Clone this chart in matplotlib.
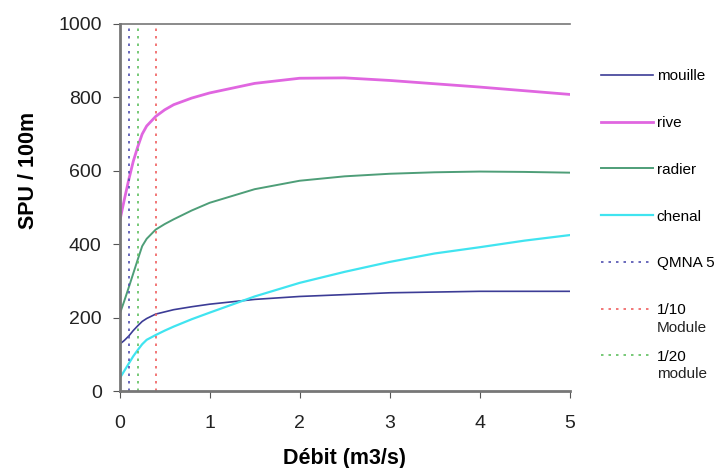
import matplotlib.pyplot as plt

plt.rcParams['font.family'] = ['Liberation Sans', 'DejaVu Sans']

# debit (m3/s)
q = [0, 0.05, 0.1, 0.15, 0.2, 0.25, 0.3, 0.4, 0.5, 0.6, 0.8, 1.0, 1.5, 2.0, 2.5, 3.0, 3.5, 4.0, 4.5, 5.0]

mouille = [128, 138, 150, 165, 178, 190, 198, 210, 216, 222, 230, 237, 250, 258, 263, 268, 270, 272, 272, 272]
rive = [462, 520, 575, 625, 665, 700, 722, 748, 766, 780, 798, 812, 838, 852, 853, 846, 837, 828, 818, 808]
radier = [210, 245, 282, 320, 358, 395, 415, 440, 455, 468, 492, 513, 550, 573, 585, 592, 596, 598, 597, 595]
chenal = [35, 55, 75, 95, 112, 128, 140, 153, 165, 176, 196, 214, 258, 295, 325, 352, 375, 392, 410, 425]

qmna5 = 0.1
module_10 = 0.4
module_20 = 0.2

fig = plt.figure(figsize=(7.21, 4.68), dpi=100)
ax = fig.add_axes([0.166, 0.164, 0.624, 0.785])

ax.plot(q, mouille, color='#3c3c96', lw=1.2, label='mouille')
ax.plot(q, rive, color='#e066e0', lw=2.0, label='rive')
ax.plot(q, radier, color='#4e9e78', lw=1.4, label='radier')
ax.plot(q, chenal, color='#40e4f0', lw=1.6, label='chenal')

ax.axvline(qmna5, color='#5050b0', ls=(0, (1.5, 3)), lw=1.2, label='QMNA 5')
ax.axvline(module_10, color='#f06060', ls=(0, (1.5, 3)), lw=1.2, label='1/10')
ax.axvline(module_20, color='#60c060', ls=(0, (1.5, 3)), lw=1.2, label='1/20')

ax.set_xlim(0, 5)
ax.set_ylim(0, 1000)
ax.set_yticks(range(0, 1001, 200))
ax.set_xticks(range(0, 6))
ax.tick_params(labelsize=14, length=5, color='#555555', labelcolor='#222222')
ax.tick_params(axis='y', pad=8)
ax.tick_params(axis='x', pad=12)

for s in ['left', 'bottom', 'top']:
    ax.spines[s].set_color('#777777')
ax.spines['left'].set_linewidth(2)
ax.spines['bottom'].set_linewidth(2)
ax.spines['top'].set_linewidth(1.2)
ax.spines['right'].set_visible(False)

ax.set_xlabel('Débit (m3/s)', fontsize=15.5, fontweight='bold')
ax.set_ylabel('SPU / 100m', fontsize=15.5, fontweight='bold')
ax.xaxis.set_label_coords(0.5, -0.155)
ax.yaxis.set_label_coords(-0.18, 0.6)

leg = fig.legend(loc='upper left', bbox_to_anchor=(0.815, 0.881), frameon=False,
                 fontsize=11, labelspacing=2.14, handlelength=3.35, handletextpad=0.27)

# second line of the two-line legend labels
fig.canvas.draw()
inv = fig.transFigure.inverted()
for txt, extra in [(leg.get_texts()[5], 'Module'), (leg.get_texts()[6], 'module')]:
    bb = txt.get_window_extent()
    x0, y0 = inv.transform((bb.x0, bb.y0))
    fig.text(x0, y0 - 0.008, extra, fontsize=11, va='top', ha='left', color='#222222')

fig.savefig('out.png', dpi=100)
